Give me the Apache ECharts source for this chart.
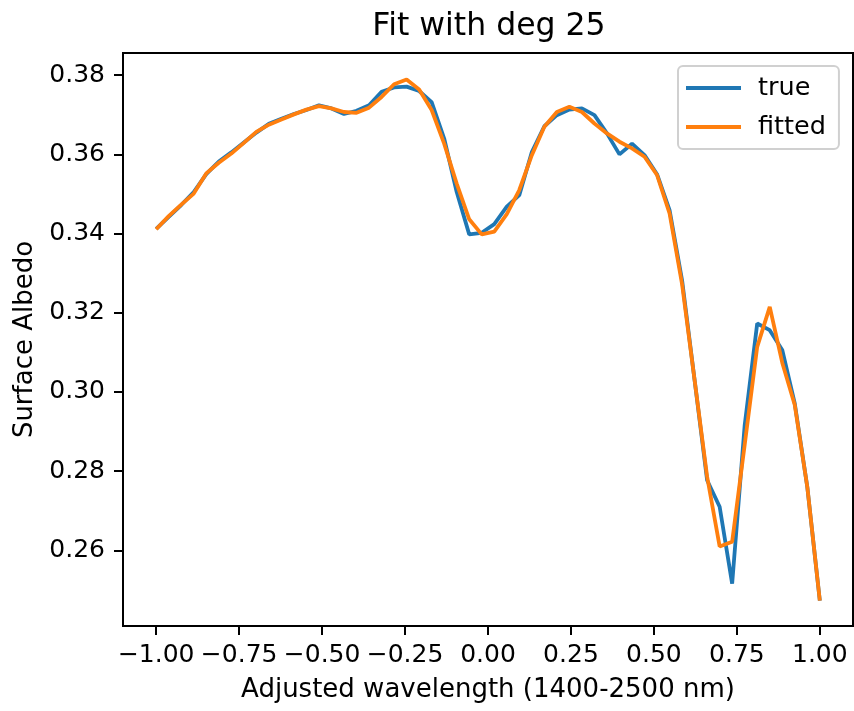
<!DOCTYPE html>
<html>
<head>
<meta charset="utf-8">
<script src="https://cdn.jsdelivr.net/npm/echarts@6/dist/echarts.min.js"></script>
<style>
html,body{margin:0;padding:0;background:#fff;}
#chart{width:854px;height:711px;}
</style>
</head>
<body>
<div id="chart"></div>
<script>
const xValues = [-1.0000,-0.9623,-0.9245,-0.8868,-0.8491,-0.8113,-0.7736,-0.7358,-0.6981,-0.6604,
  -0.6226,-0.5849,-0.5472,-0.5094,-0.4717,-0.4340,-0.3962,-0.3585,-0.3208,-0.2830,
  -0.2453,-0.2075,-0.1698,-0.1321,-0.0943,-0.0566,-0.0189,0.0189,0.0566,0.0943,
  0.1321,0.1698,0.2075,0.2453,0.2830,0.3208,0.3585,0.3962,0.4340,0.4717,
  0.5094,0.5472,0.5849,0.6226,0.6604,0.6981,0.7358,0.7736,0.8113,0.8491,
  0.8868,0.9245,0.9623,1.0000];
const trueValues = [0.3412,0.3442,0.3472,0.3505,0.3550,0.3582,0.3605,0.3630,0.3655,0.3677,
  0.3690,0.3702,0.3712,0.3724,0.3716,0.3702,0.3710,0.3724,0.3758,0.3769,
  0.3771,0.3760,0.3732,0.3640,0.3505,0.3398,0.3402,0.3424,0.3468,0.3497,
  0.3606,0.3671,0.3699,0.3713,0.3716,0.3699,0.3653,0.3600,0.3627,0.3598,
  0.3550,0.3459,0.3282,0.3030,0.2777,0.2710,0.2516,0.2916,0.3173,0.3156,
  0.3106,0.2971,0.2760,0.2473];
const fittedValues = [0.3411,0.3444,0.3473,0.3501,0.3552,0.3579,0.3602,0.3629,0.3657,0.3675,
  0.3688,0.3701,0.3713,0.3722,0.3716,0.3707,0.3705,0.3718,0.3745,0.3777,
  0.3789,0.3764,0.3712,0.3627,0.3526,0.3436,0.3398,0.3405,0.3449,0.3510,
  0.3598,0.3670,0.3707,0.3720,0.3707,0.3678,0.3653,0.3632,0.3615,0.3594,
  0.3548,0.3451,0.3272,0.3030,0.2786,0.2610,0.2622,0.2867,0.3114,0.3215,
  0.3074,0.2967,0.2760,0.2473];
const xTicks = [-1.00,-0.75,-0.50,-0.25,0.00,0.25,0.50,0.75,1.00];
const yTicks = [0.26,0.28,0.30,0.32,0.34,0.36,0.38];
const seriesNames = ['true','fitted'];
const titleText = 'Fit with deg 25';
const xName = 'Adjusted wavelength (1400-2500 nm)';
const yName = 'Surface Albedo';

const FONT = 'DejaVu Sans';
const fmt = v => { const s = Math.abs(v).toFixed(2); return (v < -1e-9 ? '\u2212' : '') + s; };
const pairs = arr => xValues.map((x, i) => [x, arr[i]]);

const chart = echarts.init(document.getElementById('chart'), null, {renderer: 'canvas'});
chart.setOption({
  animation: false,
  backgroundColor: '#ffffff',
  graphic: [{
    type: 'text', x: 489, y: 27,
    style: {text: titleText, font: '31.5px "DejaVu Sans"', fill: '#000', textAlign: 'center', textVerticalAlign: 'middle'}
  }],
  grid: {left: 123, right: 1, top: 53, bottom: 85, show: true, borderColor: '#000', borderWidth: 2, backgroundColor: 'transparent'},
  legend: {
    orient: 'vertical', left: 678, top: 66,
    data: seriesNames,
    icon: 'rect', itemWidth: 55, itemHeight: 4, itemGap: 13,
    padding: [9, 13, 9, 8],
    borderColor: '#d0d0d0', borderWidth: 2, borderRadius: 5, backgroundColor: '#fff',
    textStyle: {fontFamily: FONT, fontSize: 25.5, color: '#000', padding: [0, 0, 0, 12]}
  },
  xAxis: {
    type: 'value', min: -1.1, max: 1.1,
    name: xName, nameLocation: 'middle', nameGap: 51,
    nameTextStyle: {fontFamily: FONT, fontSize: 26, color: '#000'},
    axisLine: {show: false, onZero: false},
    splitLine: {show: false},
    axisTick: {show: true, customValues: xTicks, length: 9, lineStyle: {color: '#000', width: 2}},
    axisLabel: {customValues: xTicks, formatter: fmt, margin: 17, fontFamily: FONT, fontSize: 25, color: '#000'}
  },
  yAxis: {
    type: 'value', min: 0.2409, max: 0.3856,
    name: yName, nameLocation: 'middle', nameGap: 85,
    nameTextStyle: {fontFamily: FONT, fontSize: 26, color: '#000'},
    axisLine: {show: false, onZero: false},
    splitLine: {show: false},
    axisTick: {show: true, customValues: yTicks, length: 9, lineStyle: {color: '#000', width: 2}},
    axisLabel: {customValues: yTicks, formatter: fmt, margin: 18, fontFamily: FONT, fontSize: 25, color: '#000'}
  },
  series: [
    {name: seriesNames[0], type: 'line', data: pairs(trueValues), showSymbol: false, symbol: 'none',
     lineStyle: {color: '#1f77b4', width: 3.8}, itemStyle: {color: '#1f77b4'}, z: 2},
    {name: seriesNames[1], type: 'line', data: pairs(fittedValues), showSymbol: false, symbol: 'none',
     lineStyle: {color: '#ff7f0e', width: 3.8}, itemStyle: {color: '#ff7f0e'}, z: 3}
  ]
});
</script>
</body>
</html>
